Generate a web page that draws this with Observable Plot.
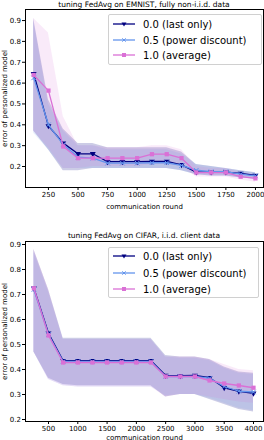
<!DOCTYPE html>
<html><head><meta charset="utf-8">
<script src="https://cdn.jsdelivr.net/npm/d3@7"></script>
<script src="https://cdn.jsdelivr.net/npm/@observablehq/plot@0.6"></script>
<style>
body{margin:0;background:#fff;font-family:"DejaVu Sans",sans-serif;}
#wrap{position:relative;width:264px;height:440px;overflow:hidden;}
.title{position:absolute;left:25px;width:238px;text-align:center;font-size:7.5px;line-height:9px;color:#000;white-space:nowrap;}
.legend{position:absolute;background:rgba(255,255,255,0.85);border:1px solid #d0d0d0;border-radius:2px;box-sizing:border-box;}
.row{position:absolute;left:4px;height:14px;display:flex;align-items:center;font-size:10px;white-space:nowrap;}
.row svg{margin-right:8px;}
svg.plot{position:absolute;left:0;}
</style></head>
<body><div id="wrap"></div>
<script>
// ---------- data ----------
const titles = ["tuning FedAvg on EMNIST, fully non-i.i.d. data", "tuning FedAvg on CIFAR, i.i.d. client data"];
const seriesNames = ["0.0 (last only)", "0.5 (power discount)", "1.0 (average)"];
const xLabel = "communication round";
const yLabel = "error of personalized model";

// EMNIST
const roundsE = [125,250,375,500,625,750,875,1000,1125,1250,1375,1500,1625,1750,1875,2000];
const e00 = [0.645,0.395,0.312,0.261,0.261,0.223,0.223,0.223,0.224,0.224,0.208,0.173,0.173,0.173,0.167,0.157];
const e05 = [0.625,0.400,0.305,0.245,0.240,0.216,0.216,0.216,0.218,0.218,0.205,0.182,0.175,0.175,0.163,0.155];
const e10 = [0.639,0.564,0.296,0.240,0.240,0.240,0.240,0.240,0.259,0.259,0.240,0.171,0.171,0.171,0.151,0.143];
const e00hi = [0.91,0.52,0.38,0.31,0.31,0.29,0.29,0.29,0.29,0.29,0.27,0.21,0.20,0.19,0.18,0.17];
const e00lo = [0.37,0.28,0.18,0.18,0.19,0.19,0.19,0.19,0.19,0.19,0.18,0.16,0.155,0.155,0.145,0.14];
const e05hi = [0.90,0.50,0.37,0.30,0.30,0.28,0.28,0.28,0.28,0.28,0.26,0.21,0.20,0.19,0.18,0.17];
const e05lo = [0.36,0.28,0.19,0.19,0.19,0.19,0.19,0.19,0.19,0.19,0.18,0.16,0.155,0.155,0.145,0.14];
const e10hi = [0.91,0.84,0.44,0.30,0.30,0.29,0.29,0.29,0.30,0.30,0.28,0.20,0.19,0.19,0.17,0.16];
const e10lo = [0.37,0.29,0.19,0.19,0.20,0.20,0.20,0.20,0.21,0.21,0.20,0.15,0.15,0.15,0.135,0.125];
const xTicksE = [250,500,750,1000,1250,1500,1750,2000];

// CIFAR
const roundsC = [250,500,750,1000,1250,1500,1750,2000,2250,2500,2750,3000,3250,3500,3750,4000];
const c00 = [0.725,0.545,0.435,0.435,0.435,0.435,0.435,0.435,0.435,0.376,0.375,0.376,0.367,0.327,0.313,0.305];
const c05 = [0.720,0.540,0.432,0.432,0.432,0.432,0.432,0.432,0.432,0.372,0.372,0.372,0.365,0.332,0.313,0.310];
const c10 = [0.725,0.536,0.428,0.428,0.428,0.428,0.428,0.428,0.428,0.372,0.372,0.372,0.356,0.344,0.336,0.327];
const c00hi = [0.88,0.72,0.525,0.525,0.525,0.525,0.525,0.525,0.525,0.456,0.45,0.45,0.44,0.41,0.39,0.385];
const c00lo = [0.47,0.365,0.34,0.335,0.335,0.335,0.335,0.335,0.335,0.29,0.30,0.30,0.28,0.26,0.24,0.23];
const c05hi = [0.87,0.71,0.52,0.52,0.52,0.52,0.52,0.52,0.52,0.45,0.445,0.445,0.435,0.405,0.385,0.38];
const c05lo = [0.47,0.36,0.335,0.33,0.33,0.33,0.33,0.33,0.33,0.295,0.30,0.30,0.285,0.265,0.245,0.235];
const c10hi = [0.88,0.72,0.52,0.52,0.52,0.52,0.52,0.52,0.52,0.45,0.45,0.45,0.44,0.42,0.40,0.395];
const c10lo = [0.47,0.36,0.335,0.33,0.33,0.33,0.33,0.33,0.33,0.29,0.30,0.30,0.29,0.28,0.27,0.265];
const xTicksC = [500,1000,1500,2000,2500,3000,3500,4000];

const yTicks = [0.2,0.3,0.4,0.5,0.6,0.7,0.8,0.9];

// ---------- styling ----------
const colors = ["#000080", "#6495ed", "#da70d6"];
const triDown = {draw(ctx, size){ const y = Math.sqrt(size/(Math.sqrt(3)*3)); const s = Math.sqrt(3)*y;
  ctx.moveTo(0, 2*y); ctx.lineTo(-s, -y); ctx.lineTo(s, -y); ctx.closePath(); }};
const symbols = [triDown, "times", "square"];

function rows(xs, ys, lo, hi, k){ return xs.map((x,i)=>({x, y:ys[i], lo:lo[i], hi:hi[i], k})); }

function chart(xs, lines, los, his, xTicks, xDomain, yDomain, height, mb, labelOffsetX){
  const data = lines.map((ys,k)=>rows(xs, ys, los[k], his[k], k));
  const marks = [];
  data.forEach((d,k)=>marks.push(Plot.areaY(d, {x:"x", y1:"lo", y2:"hi", fill:colors[k], fillOpacity: k===0?0.2:0.15})));
  data.forEach((d,k)=>{
    marks.push(Plot.line(d, {x:"x", y:"y", stroke:colors[k], strokeWidth:1.3}));
    if (k===1) marks.push(Plot.dot(d, {x:"x", y:"y", symbol:"times", stroke:colors[k], strokeWidth:1, r:2.2}));
    else marks.push(Plot.dot(d, {x:"x", y:"y", symbol:symbols[k], fill:colors[k], stroke:"none", r: k===0?2.2:2.4}));
  });
  marks.push(Plot.frame({stroke:"black", strokeWidth:1}));
  return Plot.plot({
    width:264, height, marginTop:0, marginLeft:25, marginRight:1, marginBottom:mb,
    style:{fontFamily:"DejaVu Sans", fontSize:"7px", background:"transparent", color:"#000", overflow:"visible"},
    x:{domain:xDomain, ticks:xTicks, tickFormat:d=>String(d), tickSize:3, tickPadding:1.5,
       label:xLabel, labelAnchor:"center", labelArrow:"none", labelOffset:labelOffsetX},
    y:{domain:yDomain, ticks:yTicks, tickFormat:d3.format(".1f"), tickSize:3, tickPadding:1.5,
       label:yLabel, labelAnchor:"center", labelArrow:"none", labelOffset:23},
    marks
  });
}

const wrap = document.getElementById("wrap");
function addTitle(text, top){ const d=document.createElement("div"); d.className="title"; d.style.top=top+"px"; d.textContent=text; wrap.appendChild(d); }
function addLegend(left, top, w, h, rowTops){
  const L=document.createElement("div"); L.className="legend";
  Object.assign(L.style,{left:left+"px",top:top+"px",width:w+"px",height:h+"px"});
  seriesNames.forEach((name,k)=>{
    const r=document.createElement("div"); r.className="row"; r.style.top=rowTops[k]+"px";
    const ns="http://www.w3.org/2000/svg";
    const s=document.createElementNS(ns,"svg"); s.setAttribute("width","22"); s.setAttribute("height","10");
    const ln=document.createElementNS(ns,"line"); ln.setAttribute("x1","0"); ln.setAttribute("x2","22"); ln.setAttribute("y1","5"); ln.setAttribute("y2","5");
    ln.setAttribute("stroke",colors[k]); ln.setAttribute("stroke-width","1.3"); s.appendChild(ln);
    const p=document.createElementNS(ns,"path");
    if(k===0){p.setAttribute("d","M8.5,3.5L13.5,3.5L11,7.5Z"); p.setAttribute("fill",colors[k]);}
    else if(k===1){p.setAttribute("d","M9.3,3.3L12.7,6.7M12.7,3.3L9.3,6.7"); p.setAttribute("stroke",colors[k]); p.setAttribute("fill","none");}
    else {p.setAttribute("d","M9,3H13V7H9Z"); p.setAttribute("fill",colors[k]);}
    s.appendChild(p); r.appendChild(s);
    const t=document.createElement("span"); t.textContent=name; r.appendChild(t);
    L.appendChild(r);
  });
  wrap.appendChild(L);
}

addTitle(titles[0], 0);
const p1 = chart(roundsE, [e00,e05,e10], [e00lo,e05lo,e10lo], [e00hi,e05hi,e10hi], xTicksE, [56,2068], [0.0993,0.953], 222, 44, 21);
p1.classList.add("plot"); p1.style.top="9px"; wrap.appendChild(p1);
addLegend(108, 14, 154, 51, [2, 18, 33]);

addTitle(titles[1], 231);
const p2 = chart(roundsC, [c00,c05,c10], [c00lo,c05lo,c10lo], [c00hi,c05hi,c10hi], xTicksC, [107,4171], [0.192,0.912], 199, 19, 18);
p2.classList.add("plot"); p2.style.top="241px"; wrap.appendChild(p2);
addLegend(108, 247, 151, 51, [1, 18, 34]);
</script>
</body></html>
